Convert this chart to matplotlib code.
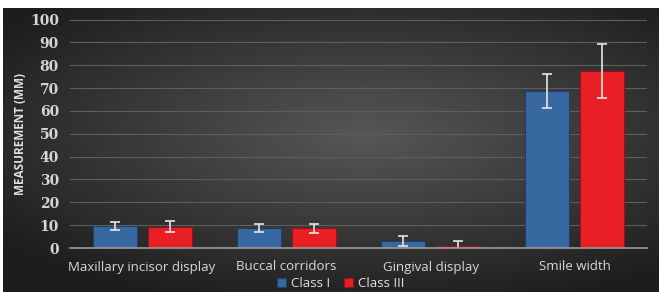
import matplotlib
matplotlib.use('Agg')
import matplotlib.pyplot as plt
import numpy as np

categories = ['Maxillary incisor display', 'Buccal corridors', 'Gingival display', 'Smile width']
class1 = [9.7, 8.8, 3.0, 68.6]
class1_err = [1.7, 1.8, 2.3, 7.5]
class3 = [9.3, 8.6, 1.0, 77.6]
class3_err = [2.5, 2.1, 2.2, 11.8]
yticks = [0, 10, 20, 30, 40, 50, 60, 70, 80, 90, 100]

fig = plt.figure(figsize=(6.59, 2.92), dpi=100)
fig.patch.set_facecolor('white')

# dark radial background
bg = fig.add_axes([3 / 659, 0, 656 / 659, 284 / 292])
yy, xx = np.mgrid[-1:1:300j, -1:1:600j]
r = np.sqrt(((xx - 0.1) * 0.9) ** 2 + ((yy + 0.1) * 1.0) ** 2)
shade = np.clip(0.34 - 0.18 * r, 0.11, 0.4)
bg.imshow(np.dstack([shade] * 3), aspect='auto', extent=[0, 1, 0, 1])
bg.set_axis_off()

ax = fig.add_axes([70 / 659, 44 / 292, 577 / 659, 228.5 / 292])
ax.patch.set_alpha(0)

x = np.arange(len(categories))
w = 0.305
off = 0.19
errkw = dict(ecolor='#e6e6e6', capsize=3.5, elinewidth=1.2, capthick=1.2)
ax.bar(x - off, class1, w, yerr=class1_err, color='#3868a0', edgecolor='#1f3f66',
       linewidth=0.8, error_kw=errkw, label='Class I', zorder=3)
ax.bar(x + off, class3, w, yerr=class3_err, color='#e81f25', edgecolor='#9a1217',
       linewidth=0.8, error_kw=errkw, label='Class III', zorder=3)

ax.set_xlim(-0.5, len(categories) - 0.5)
ax.set_ylim(0, 100)
ax.set_yticks(yticks)
ax.set_yticklabels([str(t) for t in yticks], family='DejaVu Serif', fontweight='bold',
                   fontsize=10, color='#d4d4d4')
ax.set_xticks(x)
ax.set_xticklabels(categories, family='Open Sans', fontsize=9.5, color='#d8d8d8')
ax.tick_params(axis='both', length=0)
ax.tick_params(axis='y', pad=8)
ax.tick_params(axis='x', pad=9)
ax.grid(axis='y', color='#5e5e5e', linewidth=0.8, zorder=0)
for s in ['top', 'right', 'left']:
    ax.spines[s].set_visible(False)
ax.spines['bottom'].set_color('#9a9a9a')
ax.spines['bottom'].set_linewidth(1.2)
ax.spines['bottom'].set_zorder(4)

ax.set_ylabel('MEASUREMENT (MM)', family='Open Sans', fontweight='bold', fontsize=8.5,
              color='#e0e0e0', labelpad=2)

leg = fig.legend(loc='center', bbox_to_anchor=(0.517, 0.03), ncol=2, frameon=False,
                 handlelength=0.7, handleheight=0.7, handletextpad=0.4, columnspacing=1.0,
                 prop={'family': 'Open Sans', 'size': 9.5})
for t in leg.get_texts():
    t.set_color('#e0e0e0')

fig.savefig('out.png', dpi=100)
